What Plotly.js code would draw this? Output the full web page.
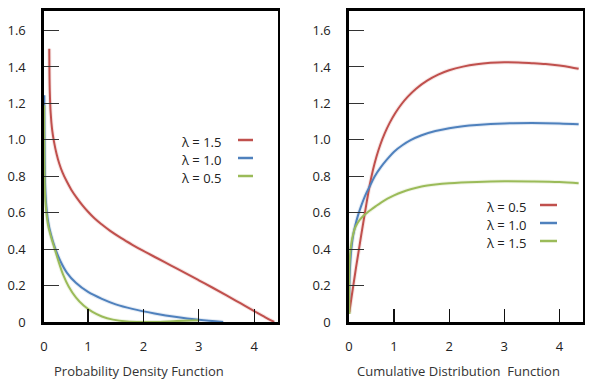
<!DOCTYPE html>
<html>
<head>
<meta charset="utf-8">
<script src="https://cdn.plot.ly/plotly-3.0.1.min.js"></script>
<style>html,body{margin:0;padding:0;background:#fff;}#chart{width:591px;height:387px;}</style>
</head>
<body>
<div id="chart"></div>
<script>
// ---------- Data ----------
// Probability Density Function panel
var pdfRedX   = [0.30, 0.303, 0.31, 0.325, 0.35, 0.385, 0.43, 0.48, 0.54, 0.61, 0.70, 0.80, 0.90, 1.00, 1.12, 1.25, 1.40, 1.60, 1.80, 2.00, 2.25, 2.50, 2.75, 3.00, 3.25, 3.50, 3.75, 4.00, 4.20, 4.36];
var pdfRedY   = [1.50, 1.38, 1.26, 1.15, 1.06, 0.99, 0.925, 0.87, 0.82, 0.775, 0.725, 0.68, 0.64, 0.605, 0.568, 0.535, 0.50, 0.46, 0.424, 0.39, 0.35, 0.31, 0.27, 0.229, 0.188, 0.146, 0.103, 0.06, 0.026, 0.0];
var pdfBlueX  = [0.21, 0.212, 0.217, 0.225, 0.245, 0.28, 0.33, 0.40, 0.50, 0.62, 0.78, 1.00, 1.25, 1.50, 1.80, 2.20, 2.60, 3.00, 3.44];
var pdfBlueY  = [1.245, 1.05, 0.88, 0.75, 0.64, 0.55, 0.48, 0.41, 0.335, 0.27, 0.215, 0.165, 0.127, 0.097, 0.072, 0.047, 0.027, 0.012, 0.0];
var pdfGreenX = [0.207, 0.209, 0.213, 0.222, 0.245, 0.28, 0.33, 0.40, 0.47, 0.55, 0.65, 0.78, 0.92, 1.08, 1.25, 1.45, 1.70, 2.00, 2.30, 2.60, 3.00];
var pdfGreenY = [1.19, 1.00, 0.85, 0.71, 0.61, 0.53, 0.47, 0.40, 0.33, 0.26, 0.195, 0.135, 0.09, 0.055, 0.03, 0.013, 0.003, 0.0, 0.0, 0.005, 0.01];

// Cumulative Distribution Function panel
var cdfRedX   = [0.188, 0.23, 0.27, 0.31, 0.35, 0.40, 0.46, 0.51, 0.564, 0.62, 0.68, 0.75, 0.83, 0.92, 1.02, 1.13, 1.25, 1.40, 1.60, 1.80, 2.00, 2.25, 2.50, 2.75, 3.00, 3.25, 3.50, 3.75, 4.00, 4.20, 4.35];
var cdfRedY   = [0.053, 0.14, 0.22, 0.30, 0.375, 0.47, 0.58, 0.67, 0.76, 0.838, 0.907, 0.973, 1.035, 1.093, 1.146, 1.194, 1.237, 1.281, 1.325, 1.358, 1.382, 1.402, 1.415, 1.4225, 1.426, 1.425, 1.421, 1.416, 1.408, 1.399, 1.39];
var cdfBlueX  = [0.185, 0.19, 0.20, 0.215, 0.235, 0.26, 0.30, 0.34, 0.40, 0.47, 0.55, 0.65, 0.76, 0.88, 1.00, 1.15, 1.30, 1.50, 1.75, 2.00, 2.25, 2.50, 3.00, 3.50, 4.00, 4.35];
var cdfBlueY  = [0.126, 0.22, 0.30, 0.37, 0.43, 0.48, 0.535, 0.58, 0.635, 0.69, 0.74, 0.80, 0.85, 0.895, 0.935, 0.97, 0.998, 1.025, 1.048, 1.064, 1.075, 1.082, 1.09, 1.092, 1.09, 1.085];
var cdfGreenX = [0.19, 0.186, 0.186, 0.19, 0.20, 0.215, 0.235, 0.26, 0.29, 0.33, 0.38, 0.44, 0.50, 0.58, 0.67, 0.77, 0.88, 1.00, 1.15, 1.30, 1.50, 1.75, 2.00, 2.50, 3.00, 3.50, 4.00, 4.35];
var cdfGreenY = [0.044, 0.13, 0.22, 0.30, 0.36, 0.41, 0.45, 0.485, 0.515, 0.54, 0.562, 0.582, 0.597, 0.616, 0.636, 0.657, 0.677, 0.695, 0.714, 0.729, 0.744, 0.755, 0.762, 0.769, 0.772, 0.771, 0.768, 0.762];

var pdfLegendLabels = ["λ = 1.5", "λ = 1.0", "λ = 0.5"];
var cdfLegendLabels = ["λ = 0.5", "λ = 1.0", "λ = 1.5"];
var xTickVals = [1, 2, 3, 4];
var xTickText = ["1", "2", "3", "4"];
var yTickVals = [0, 0.2, 0.4, 0.6, 0.8, 1.0, 1.2, 1.4, 1.6];
var yTickText = ["0", "0.2", "0.4", "0.6", "0.8", "1.0", "1.2", "1.4", "1.6"];
var pdfTitle = "Probability Density Function";
var cdfTitle = "Cumulative Distribution  Function";

// ---------- Styles ----------
var RED = "#c0504d", BLUE = "#4f81bd", GREEN = "#9bbb59";
var colors = [RED, BLUE, GREEN];
var W = 591, H = 387;
function px(x) { return x / W; }
function py(y) { return 1 - y / H; }

var pdfRange = [0.205, 4.42];
var cdfRange = [0.182, 4.42];

function line(x, y, c, xa, ya, name) {
  return {x: x, y: y, type: "scatter", mode: "lines", name: name,
    xaxis: xa, yaxis: ya, showlegend: false, hoverinfo: "skip",
    line: {color: c, width: 2, shape: "spline", smoothing: 1}};
}
function glow(x, y, c, xa, ya) {
  return {x: x, y: y, type: "scatter", mode: "lines", xaxis: xa, yaxis: ya,
    showlegend: false, hoverinfo: "skip", opacity: 0.15,
    line: {color: c, width: 4, shape: "spline", smoothing: 1}};
}

var pdfSeries = [[pdfRedX, pdfRedY], [pdfBlueX, pdfBlueY], [pdfGreenX, pdfGreenY]];
var cdfSeries = [[cdfRedX, cdfRedY], [cdfBlueX, cdfBlueY], [cdfGreenX, cdfGreenY]];
var traces = [];
pdfSeries.forEach(function (s, i) { traces.push(glow(s[0], s[1], colors[i], "x", "y")); });
cdfSeries.forEach(function (s, i) { traces.push(glow(s[0], s[1], colors[i], "x2", "y2")); });
pdfSeries.forEach(function (s, i) { traces.push(line(s[0], s[1], colors[i], "x", "y", pdfLegendLabels[i])); });
cdfSeries.forEach(function (s, i) { traces.push(line(s[0], s[1], colors[i], "x2", "y2", cdfLegendLabels[i])); });

var font = {family: "Open Sans, Noto Sans, sans-serif", size: 13, color: "#222"};

function xAxis(domain, range) {
  return {domain: domain, range: range, tickmode: "array",
    tickvals: [range[0]].concat(xTickVals), ticktext: ["0"].concat(xTickText),
    ticks: "inside", ticklen: 13, tickwidth: 1.2, tickcolor: "#111",
    showline: true, mirror: true, linewidth: 2.6, linecolor: "#000",
    showgrid: false, zeroline: false, ticklabelstandoff: 11,
    tickfont: font, fixedrange: true};
}
function yAxis(domain, anchor) {
  return {domain: domain, range: [0, 1.71], anchor: anchor, tickmode: "array",
    tickvals: yTickVals, ticktext: yTickText,
    ticks: "inside", ticklen: 15, tickwidth: 1, tickcolor: "#333",
    showline: true, mirror: true, linewidth: 2.6, linecolor: "#000",
    showgrid: false, zeroline: false, ticklabelstandoff: 13,
    tickfont: font, fixedrange: true};
}

var yDom = [1 - 322 / H, 1 - 10.5 / H];
var annotations = [
  {text: pdfTitle, x: px(139), y: py(371), xref: "paper", yref: "paper", showarrow: false,
   xanchor: "center", yanchor: "middle", font: {family: font.family, size: 13, color: "#333"}},
  {text: cdfTitle, x: px(458), y: py(371), xref: "paper", yref: "paper", showarrow: false,
   xanchor: "center", yanchor: "middle", font: {family: font.family, size: 13, color: "#333"}}
];
var shapes = [];
var pdfRows = [142, 160, 178], cdfRows = [207, 225, 243];
pdfLegendLabels.forEach(function (t, i) {
  annotations.push({text: t, x: px(223), y: py(pdfRows[i]), xref: "paper", yref: "paper",
    showarrow: false, xanchor: "right", yanchor: "middle", font: font});
  shapes.push({type: "line", xref: "paper", yref: "paper", x0: px(238), x1: px(253),
    y0: py(pdfRows[i] - 2), y1: py(pdfRows[i] - 2), line: {color: colors[i], width: 2.5}});
});
cdfLegendLabels.forEach(function (t, i) {
  annotations.push({text: t, x: px(528), y: py(cdfRows[i]), xref: "paper", yref: "paper",
    showarrow: false, xanchor: "right", yanchor: "middle", font: font});
  shapes.push({type: "line", xref: "paper", yref: "paper", x0: px(540), x1: px(557),
    y0: py(cdfRows[i] - 2), y1: py(cdfRows[i] - 2), line: {color: colors[i], width: 2.5}});
});

var layout = {
  width: W, height: H, margin: {l: 0, r: 0, t: 0, b: 0},
  paper_bgcolor: "#fff", plot_bgcolor: "#fff", showlegend: false,
  xaxis: xAxis([px(44), px(277.5)], pdfRange),
  yaxis: yAxis(yDom, "x"),
  xaxis2: Object.assign(xAxis([px(349), px(582.5)], cdfRange), {anchor: "y2"}),
  yaxis2: yAxis(yDom, "x2"),
  annotations: annotations, shapes: shapes, font: font
};
layout.xaxis.anchor = "y";

Plotly.newPlot("chart", traces, layout, {displayModeBar: false, staticPlot: true});
</script>
</body>
</html>
